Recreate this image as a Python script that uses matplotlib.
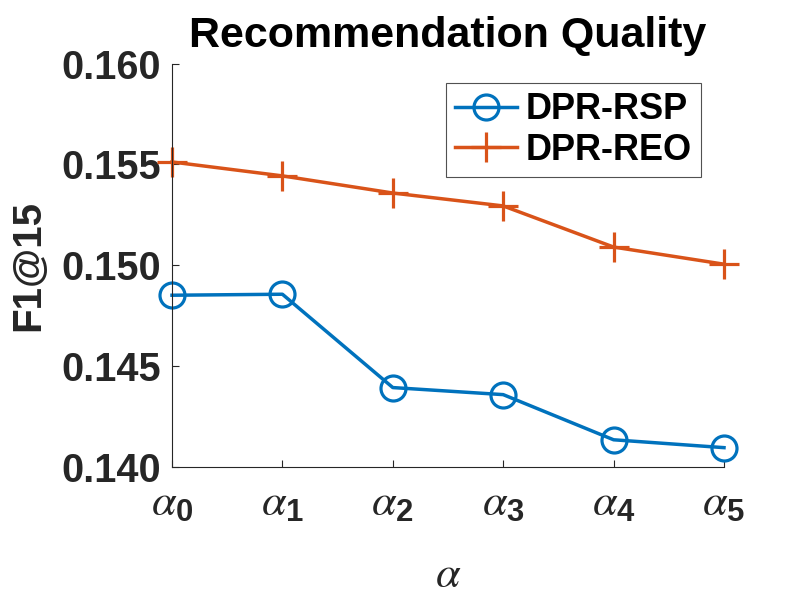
import matplotlib
matplotlib.use('Agg')
import matplotlib.pyplot as plt

# Valores
alphas = [0, 1, 2, 3, 4, 5]
rotulos = [r'$\alpha_{\mathsf{%d}}$' % a for a in alphas]
rsp = [0.14851, 0.14856, 0.14393, 0.14358, 0.14134, 0.14095]
reo = [0.15512, 0.15443, 0.15358, 0.15294, 0.15090, 0.15005]

plt.rcParams['font.family'] = ['Liberation Sans', 'DejaVu Sans']
plt.rcParams['mathtext.fontset'] = 'custom'
plt.rcParams['mathtext.it'] = 'STIXGeneral:italic'
plt.rcParams['mathtext.rm'] = 'STIXGeneral'
plt.rcParams['mathtext.sf'] = 'Liberation Sans:bold'

fig = plt.figure(figsize=(8, 6), dpi=100)
ax = fig.add_axes([0.215, 0.222, 0.69, 0.672])

ax.plot(alphas, rsp, '-o', color='#0072BD', lw=2.5, ms=18,
        mfc='none', mew=2.3, label='DPR-RSP', clip_on=False)
ax.plot(alphas, reo, '-+', color='#D95319', lw=2.5, ms=22,
        mew=2.3, label='DPR-REO', clip_on=False)

ax.set_xlim(0, 5)
ax.set_ylim(0.140, 0.160)
ax.set_xticks(alphas)
ax.set_xticklabels(rotulos)
ax.set_yticks([0.140, 0.145, 0.150, 0.155, 0.160])
ax.set_yticklabels(['0.140', '0.145', '0.150', '0.155', '0.160'],
                   fontweight='bold')

for s in ['top', 'right']:
    ax.spines[s].set_visible(False)
for s in ['left', 'bottom']:
    ax.spines[s].set_color('#262626')
    ax.spines[s].set_linewidth(0.8)

ax.tick_params(direction='in', length=5, width=0.8, colors='#262626')
ax.tick_params(axis='x', pad=12, labelsize=32)
ax.tick_params(axis='y', pad=8, labelsize=28.5)

ax.set_title('Recommendation Quality', fontsize=31, fontweight='bold',
             color='black', pad=12)
ax.set_ylabel('F1@15', fontsize=29, fontweight='bold', color='#262626',
              labelpad=10)
ax.set_xlabel(r'$\alpha$', fontsize=32, color='#262626', labelpad=22)

leg = ax.legend(loc='upper right', bbox_to_anchor=(0.965, 0.96),
                fontsize=26, frameon=True, fancybox=False,
                handlelength=1.7, handletextpad=0.25, borderpad=0.25,
                labelspacing=0.15, borderaxespad=0.1)
leg.get_frame().set_edgecolor('#262626')
leg.get_frame().set_linewidth(0.8)
for t in leg.get_texts():
    t.set_fontweight('bold')
    t.set_color('black')

fig.savefig('out.png', dpi=100)
